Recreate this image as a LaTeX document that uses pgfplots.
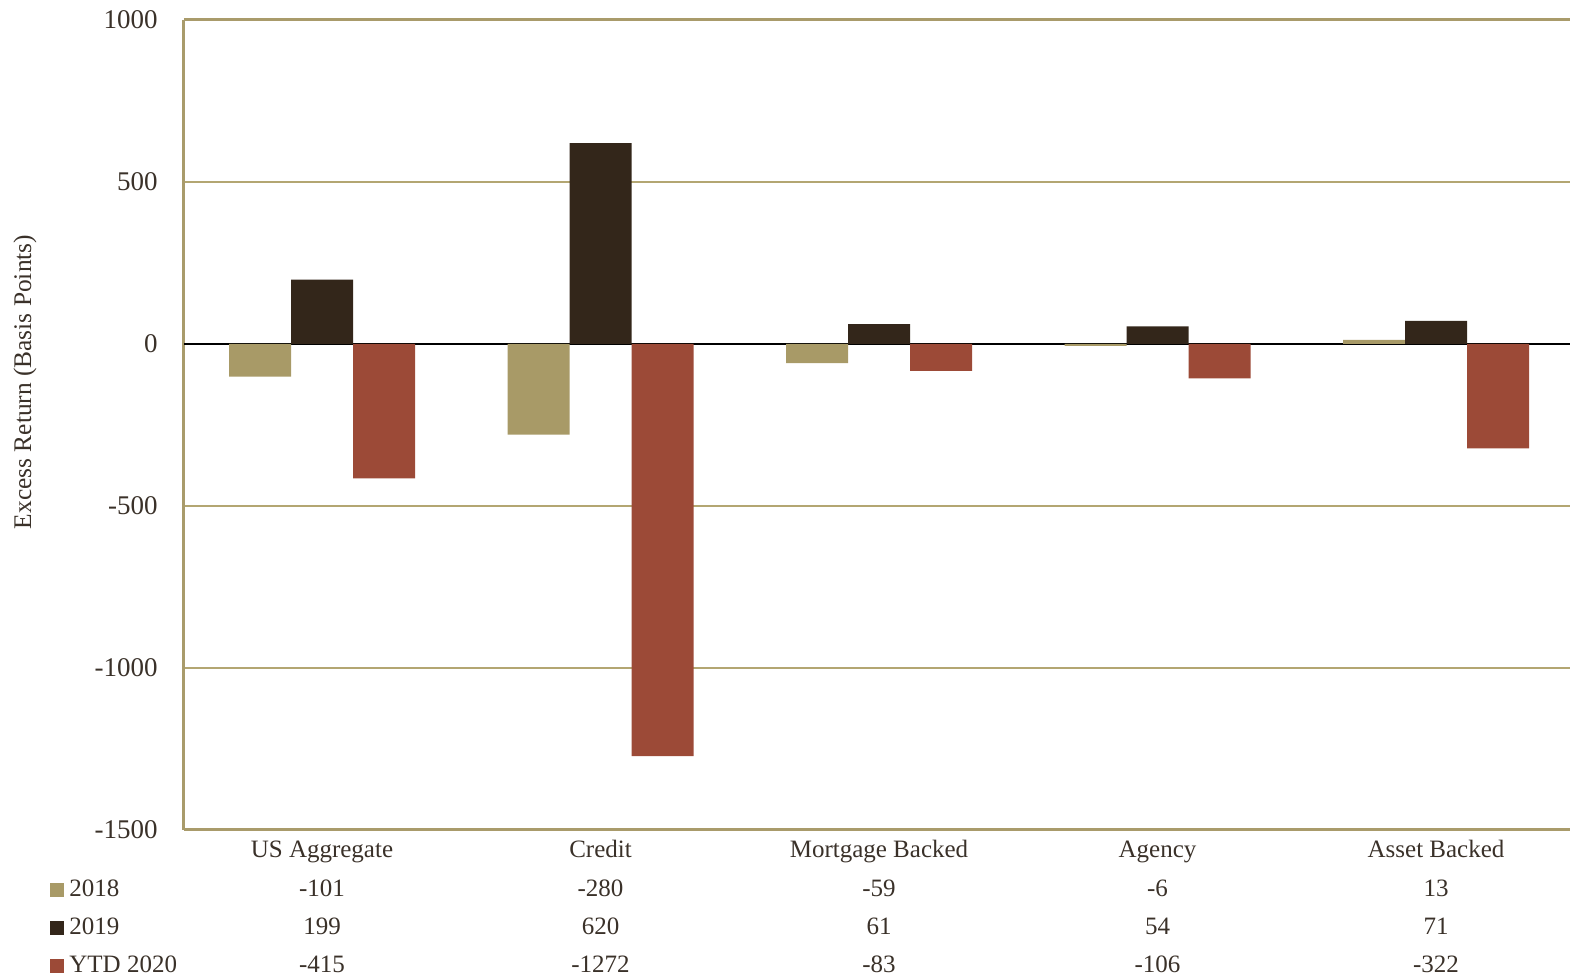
\documentclass[border=0pt]{standalone}
\usepackage{fontspec}
\setmainfont{Liberation Serif}
\usepackage{pgfplots}
\pgfplotsset{compat=1.18}
\definecolor{tanc}{HTML}{A89A67}
\definecolor{darkc}{HTML}{33261A}
\definecolor{rustc}{HTML}{9C4A37}
\definecolor{framec}{HTML}{A99B6B}
\definecolor{gridc}{HTML}{B3A672}
\definecolor{txt}{HTML}{3A3129}
\begin{document}
\begin{tikzpicture}
\path[use as bounding box] (-92pt,-74.5pt) rectangle (693pt,415pt);
\begin{axis}[
  scale only axis, width=693pt, height=405pt,
  xmin=-0.4955, xmax=4.481, ymin=-1500, ymax=1000,
  ybar=0pt, bar width=31pt,
  separate axis lines,
  axis x line*=box, axis y line*=left,
  axis line style={framec, line width=1.5pt},
  major tick length=0pt,
  xtick={0,1,2,3,4},
  xticklabels={US Aggregate, Credit, Mortgage Backed, Agency, Asset Backed},
  ytick={-1500,-1000,-500,0,500,1000},
  yticklabels={-1500,-1000,-500,0,500,1000},
  ymajorgrids, major grid style={gridc, line width=0.6pt},
  extra y ticks={0}, extra y tick labels={},
  extra y tick style={grid=major, major grid style={black, line width=0.8pt}},
  yticklabel style={font=\fontsize{13.5}{14}\selectfont, text=txt, inner xsep=0pt, xshift=-13pt},
  xticklabel style={font=\fontsize{12.5}{13}\selectfont, text=txt, anchor=base, yshift=-14pt},
  clip=false,
]
\addplot[fill=tanc, draw=none] coordinates {(0,-101) (1,-280) (2,-59) (3,-6) (4,13)};
\addplot[fill=darkc, draw=none] coordinates {(0,199) (1,620) (2,61) (3,54) (4,71)};
\addplot[fill=rustc, draw=none] coordinates {(0,-415) (1,-1272) (2,-83) (3,-106) (4,-322)};
\begin{scope}[every node/.style={font=\fontsize{12.5}{13}\selectfont, text=txt, anchor=base, inner sep=0pt}]
\node at ([yshift=-33.3pt]axis cs:0,-1500) {-101};
\node at ([yshift=-33.3pt]axis cs:1,-1500) {-280};
\node at ([yshift=-33.3pt]axis cs:2,-1500) {-59};
\node at ([yshift=-33.3pt]axis cs:3,-1500) {-6};
\node at ([yshift=-33.3pt]axis cs:4,-1500) {13};
\node at ([yshift=-52.3pt]axis cs:0,-1500) {199};
\node at ([yshift=-52.3pt]axis cs:1,-1500) {620};
\node at ([yshift=-52.3pt]axis cs:2,-1500) {61};
\node at ([yshift=-52.3pt]axis cs:3,-1500) {54};
\node at ([yshift=-52.3pt]axis cs:4,-1500) {71};
\node at ([yshift=-71.3pt]axis cs:0,-1500) {-415};
\node at ([yshift=-71.3pt]axis cs:1,-1500) {-1272};
\node at ([yshift=-71.3pt]axis cs:2,-1500) {-83};
\node at ([yshift=-71.3pt]axis cs:3,-1500) {-106};
\node at ([yshift=-71.3pt]axis cs:4,-1500) {-322};
\end{scope}
\end{axis}
\fill[tanc] (-67pt,-33.3pt) rectangle (-60pt,-26.3pt);
\fill[darkc] (-67pt,-52.3pt) rectangle (-60pt,-45.3pt);
\fill[rustc] (-67pt,-71.3pt) rectangle (-60pt,-64.3pt);
\begin{scope}[every node/.style={font=\fontsize{12.5}{13}\selectfont, text=txt, anchor=base west, inner sep=0pt}]
\node at (-57.5pt,-33.3pt) {2018};
\node at (-57.5pt,-52.3pt) {2019};
\node at (-57.5pt,-71.3pt) {YTD 2020};
\end{scope}
\node[rotate=90, font=\fontsize{12.7}{13}\selectfont, text=txt, inner sep=0pt] at (-79.5pt,224pt) {Excess Return (Basis Points)};
\end{tikzpicture}
\end{document}
